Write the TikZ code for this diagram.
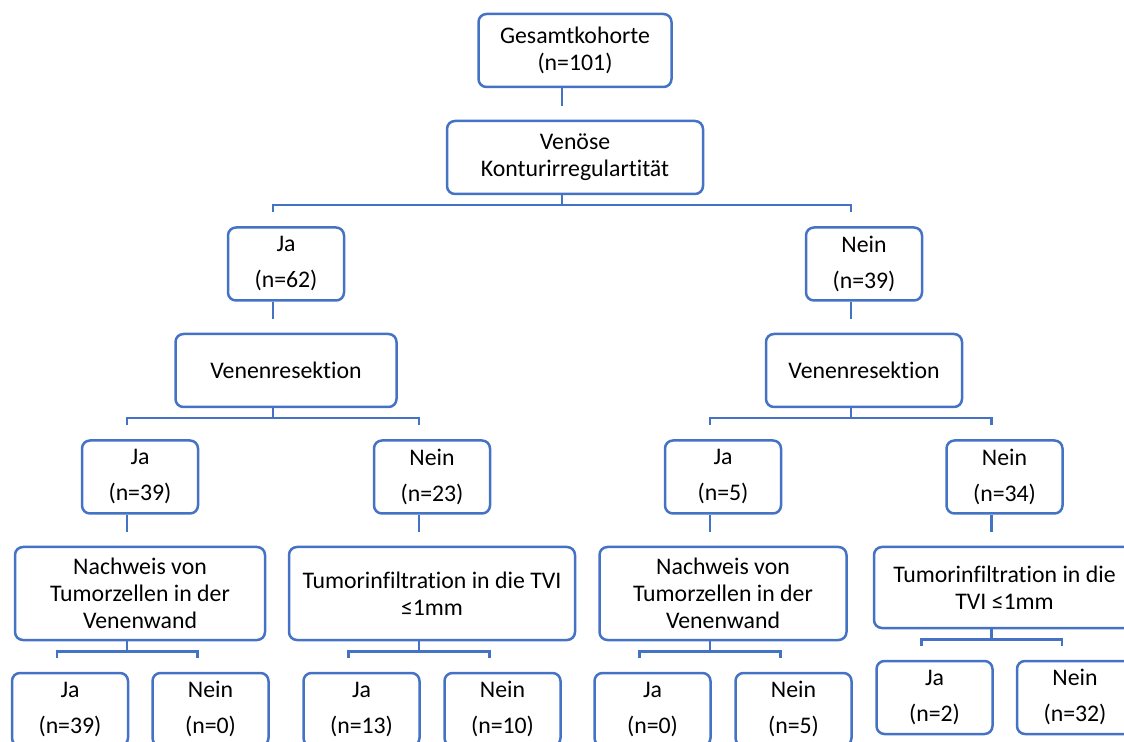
\documentclass[tikz,border=0pt]{standalone}
\usepackage{fontspec}
\setmainfont[Ligatures=NoCommon]{Carlito}
\definecolor{wordblue}{RGB}{68,114,196}

\begin{document}
\begin{tikzpicture}[x=0.5pt,y=-0.5pt]
	\tikzstyle{text_box} = [rectangle, draw=wordblue, line width=1.25pt, rounded corners=4pt, align=center, inner sep=0pt, font=\fontsize{11.9pt}{13.5pt}\selectfont]
	\tikzstyle{count_box} = [text_box, minimum width=58pt, minimum height=36.5pt, text depth=2pt]
	\tikzstyle{link} = [draw=wordblue, line width=1.25pt]

	\useasboundingbox (0,0) rectangle (1124,742);
	\clip (0,0) rectangle (1124,742);

	% Cohort and first question
	\node (G) [text_box, minimum width=96.5pt, minimum height=36.5pt] at (575,50.5) {Gesamtkohorte\\(n=101)};
	\node (K) [text_box, minimum width=128pt, minimum height=36.5pt] at (575,157.5) {Venöse\\Konturirregulartität};

	% Irregularity yes / no
	\node (J1) [count_box] at (286,264) {Ja\\[4.5pt](n=62)};
	\node (N1) [count_box] at (864,264) {Nein\\[4.5pt](n=39)};
	\node (V1) [text_box, minimum width=110.5pt, minimum height=36.5pt] at (286,370.5) {Venenresektion};
	\node (V2) [text_box, minimum width=98pt, minimum height=36.5pt] at (864,370.5) {Venenresektion};

	% Resection yes / no
	\node (J2) [count_box] at (140,477) {Ja\\[4.5pt](n=39)};
	\node (N2) [count_box] at (432,477) {Nein\\[4.5pt](n=23)};
	\node (J3) [count_box] at (723,477) {Ja\\[4.5pt](n=5)};
	\node (N3) [count_box] at (1004.5,477) {Nein\\[4.5pt](n=34)};
	\node (NW1) [text_box, minimum width=125pt, minimum height=46.5pt] at (140,593.5) {Nachweis von\\Tumorzellen in der\\Venenwand};
	\node (TI1) [text_box, minimum width=143pt, minimum height=46.5pt] at (432,593.5) {Tumorinfiltration in die TVI\\≤1mm};
	\node (NW2) [text_box, minimum width=123.5pt, minimum height=46.5pt] at (723,593.5) {Nachweis von\\Tumorzellen in der\\Venenwand};
	\node (TI2) [text_box, minimum width=130.5pt, minimum height=40.5pt] at (1004.5,587.5) {Tumorinfiltration in die\\TVI ≤1mm};

	% Findings
	\node (L1) [count_box] at (70,709.5) {Ja\\[4.5pt](n=39)};
	\node (L2) [count_box] at (210.5,709.5) {Nein\\[4.5pt](n=0)};
	\node (L3) [count_box] at (361.5,709.5) {Ja\\[4.5pt](n=13)};
	\node (L4) [count_box] at (502.5,709.5) {Nein\\[4.5pt](n=10)};
	\node (L5) [count_box] at (652.5,709.5) {Ja\\[4.5pt](n=0)};
	\node (L6) [count_box] at (793.5,709.5) {Nein\\[4.5pt](n=5)};
	\node (L7) [count_box] at (934.5,697.5) {Ja\\[4.5pt](n=2)};
	\node (L8) [count_box] at (1075,697.5) {Nein\\[4.5pt](n=32)};

	% Single links
	\foreach \a/\b in {G/K, J1/V1, N1/V2, J2/NW1, N2/TI1, J3/NW2, N3/TI2}
	\draw[link, shorten >=7pt] ([xshift=-6.5pt]\a.south) -- ([xshift=-6.5pt]\b.north);

	% Branches
	\foreach \p/\l/\r in {K/J1/N1, V1/J2/N2, V2/J3/N3, NW1/L1/L2, TI1/L3/L4, NW2/L5/L6, TI2/L7/L8} {
	\draw[link] ([xshift=-6.5pt]\p.south) -- ++(0,10);
	\draw[link, shorten <=7pt, shorten >=7pt] ([xshift=-6.5pt]\l.north) |- ([xshift=-6.5pt,yshift=-5pt]\p.south) -| ([xshift=-6.5pt]\r.north);
	}
\end{tikzpicture}
\end{document}
